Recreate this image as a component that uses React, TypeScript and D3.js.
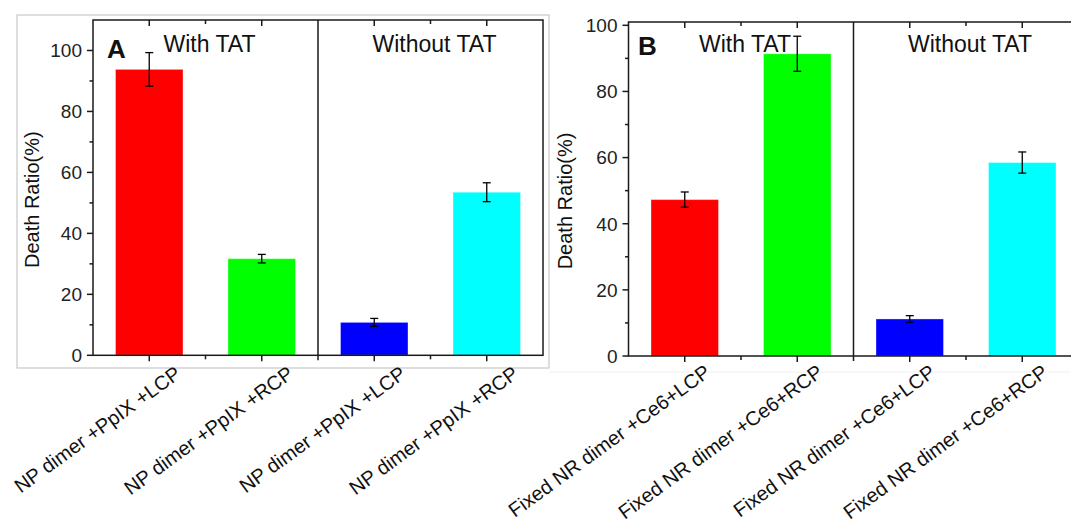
import React from 'react';
import * as d3 from 'd3';

const panelALabels = ['NP dimer +PpIX +LCP', 'NP dimer +PpIX +RCP', 'NP dimer +PpIX +LCP', 'NP dimer +PpIX +RCP'];
const panelAValues = [93.8, 31.7, 10.8, 53.5];
const panelAErrors = [5.5, 1.4, 1.3, 3.1];

const panelBLabels = ['Fixed NR dimer +Ce6+LCP', 'Fixed NR dimer +Ce6+RCP', 'Fixed NR dimer +Ce6+LCP', 'Fixed NR dimer +Ce6+RCP'];
const panelBValues = [47.3, 91.4, 11.2, 58.5];
const panelBErrors = [2.3, 5.3, 1.0, 3.2];

const barColors = ['#ff0000', '#00ff00', '#0000ff', '#00ffff'];
const groupTitles = ['With TAT', 'Without TAT'];
const yMajorTicks = [0, 20, 40, 60, 80, 100];
const yMinorTicks = [10, 30, 50, 70, 90];
const yTitle = 'Death Ratio(%)';

const FONT = '"Liberation Sans", Arial, Helvetica, sans-serif';
const AXIS = '#1a1a1a';

interface PanelProps {
  letter: string;
  letterX: number;
  letterY: number;
  labels: string[];
  values: number[];
  errors: number[];
  x0: number;
  x1: number;
  yTop: number;
  yBottom: number;
  yMax: number;
  yTitleX: number;
  labelDx: number;
  labelDy: number;
}

const Panel: React.FC<PanelProps> = ({
  letter, letterX, letterY, labels, values, errors, x0, x1, yTop, yBottom, yMax, yTitleX, labelDx, labelDy,
}) => {
  const x = d3.scaleLinear().domain([0.5, labels.length + 0.5]).range([x0, x1]);
  const y = d3.scaleLinear().domain([0, yMax]).range([yBottom, yTop]);
  const barW = (x(1) - x(0)) * 0.6;
  const cats = d3.range(1, labels.length + 1);
  const halves = cats.slice(0, -1).map(c => c + 0.5).filter(c => c !== 2.5);
  const divider = x(2.5);

  return (
    <g>
      {values.map((v, i) => (
        <rect key={`bar-${i}`} x={x(i + 1) - barW / 2} y={y(v)} width={barW} height={y(0) - y(v)}
          fill={barColors[i]} stroke="#ffffff" strokeOpacity={0.35} strokeWidth={1} />
      ))}
      {values.map((v, i) => {
        const cx = x(i + 1);
        return (
          <g key={`err-${i}`} stroke="#000" strokeWidth={1.3}>
            <line x1={cx} x2={cx} y1={y(v + errors[i])} y2={y(v - errors[i])} />
            <line x1={cx - 4} x2={cx + 4} y1={y(v + errors[i])} y2={y(v + errors[i])} />
            <line x1={cx - 4} x2={cx + 4} y1={y(v - errors[i])} y2={y(v - errors[i])} />
          </g>
        );
      })}
      {/* frame */}
      <rect x={x0} y={yTop} width={x1 - x0} height={yBottom - yTop} fill="none" stroke={AXIS} strokeWidth={1.5} />
      <line x1={divider} x2={divider} y1={yTop} y2={yBottom + 5} stroke={AXIS} strokeWidth={1.5} />
      {/* y ticks */}
      {yMajorTicks.map(t => (
        <g key={`yt-${t}`}>
          <line x1={x0 - 6} x2={x0} y1={y(t)} y2={y(t)} stroke={AXIS} strokeWidth={1.5} />
          <text x={x0 - 11} y={y(t)} dy="0.36em" textAnchor="end" fontSize={19} fontFamily={FONT} fill="#222">{t}</text>
        </g>
      ))}
      {yMinorTicks.map(t => (
        <line key={`ym-${t}`} x1={x0 - 3.5} x2={x0} y1={y(t)} y2={y(t)} stroke={AXIS} strokeWidth={1.5} />
      ))}
      {/* x ticks */}
      {cats.map(c => (
        <g key={`xt-${c}`}>
          <line x1={x(c)} x2={x(c)} y1={yBottom} y2={yBottom + 6} stroke={AXIS} strokeWidth={1.5} />
          <line x1={x(c)} x2={x(c)} y1={yTop} y2={yTop + 6} stroke={AXIS} strokeWidth={1.5} />
        </g>
      ))}
      {halves.map(c => (
        <g key={`xm-${c}`}>
          <line x1={x(c)} x2={x(c)} y1={yBottom} y2={yBottom + 4} stroke={AXIS} strokeWidth={1.5} />
          <line x1={x(c)} x2={x(c)} y1={yTop} y2={yTop + 4} stroke={AXIS} strokeWidth={1.5} />
        </g>
      ))}
      {/* category labels */}
      {labels.map((l, i) => (
        <text key={`xl-${i}`} transform={`translate(${x(i + 1) + labelDx},${yBottom + labelDy}) rotate(-36)`}
          textAnchor="end" fontSize={20} fontFamily={FONT} fill="#111">{l}</text>
      ))}
      {/* group titles */}
      {groupTitles.map((g, i) => (
        <text key={`gt-${i}`} x={x(1.5 + i * 2) + 4} y={52} textAnchor="middle" fontSize={23} fontFamily={FONT} fill="#111">{g}</text>
      ))}
      <text x={letterX} y={letterY} fontSize={26} fontWeight="bold" fontFamily={FONT} fill="#111">{letter}</text>
      <text transform={`translate(${yTitleX},${(yTop + yBottom) / 2 + 12}) rotate(-90)`} dy="0.35em"
        textAnchor="middle" fontSize={20} fontFamily={FONT} fill="#111">{yTitle}</text>
    </g>
  );
};

export default function App() {
  return (
    <svg width={1071} height={527} viewBox="0 0 1071 527"
      style={{ position: 'absolute', left: 0, top: 0, background: '#fff' }}>
      <rect x={17} y={15} width={532} height={353} fill="none" stroke="#c8c8c8" strokeWidth={1.2} />
      <line x1={549} x2={1071} y1={372} y2={372} stroke="#f0f0f0" strokeWidth={1} />
      <Panel letter="A" letterX={107} letterY={58} labels={panelALabels} values={panelAValues} errors={panelAErrors}
        x0={93} x1={543} yTop={20} yBottom={355.3} yMax={110} yTitleX={32} labelDx={33} labelDy={21} />
      <Panel letter="B" letterX={638} letterY={55} labels={panelBLabels} values={panelBValues} errors={panelBErrors}
        x0={628.5} x1={1078.5} yTop={22} yBottom={356} yMax={101} yTitleX={565} labelDx={27} labelDy={19} />
    </svg>
  );
}
